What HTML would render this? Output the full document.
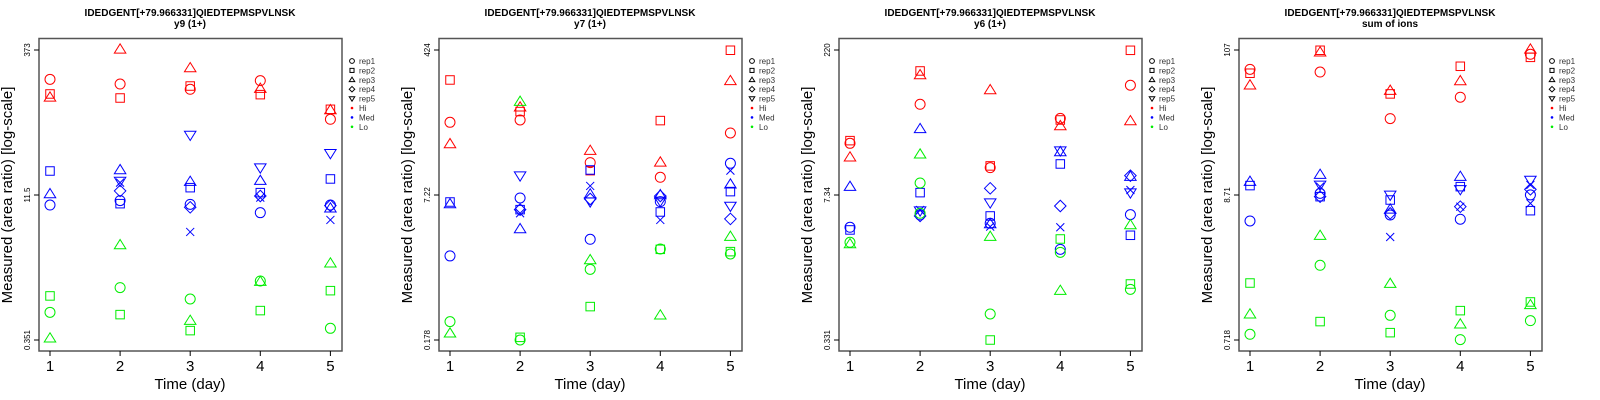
<!DOCTYPE html>
<html><head><meta charset="utf-8"><style>
html,body{margin:0;padding:0;background:#fff;}
svg{display:block;font-family:"Liberation Sans",sans-serif;}
</style></head><body>
<svg id="chart" width="1600" height="400" viewBox="0 0 1600 400" xmlns="http://www.w3.org/2000/svg"></svg>
<script>
const panelTitles = ["y9 (1+)", "y7 (1+)", "y6 (1+)", "sum of ions"];
const peptide = "IDEDGENT[+79.966331]QIEDTEPMSPVLNSK";
const yTickLabels = [["0.351","11.5","373"],["0.178","7.22","424"],["0.331","7.34","220"],["0.718","8.71","107"]];
const yMinLog = [-0.455, -0.750, -0.480, -0.144];
const yMaxLog = [2.572, 2.627, 2.342, 2.029];
const days = [1,2,3,4,5];
const legendLabels = ["rep1","rep2","rep3","rep4","rep5","Hi","Med","Lo"];

const p1Day = [1,1,1,2,2,2,3,3,3,4,4,4,5,5,5, 1,1,1,2,2,2,2,2,2,3,3,3,3,3,3,4,4,4,4,4,4,5,5,5,5,5,5, 1,1,1,2,2,2,3,3,3,4,4,4,5,5,5];
const p1Shape = "ost tos tso ots sto sto tvxdos vtsodx vtsxdo vsodtx sot tos ots ots tso".replace(/ /g,"").split("");
const p1Group = "HHHHHHHHHHHHHHH MMMMMMMMMMMMMMMMMMMMMMMMMMM LLLLLLLLLLLLLLL".replace(/ /g,"").split("");
const p1Log = [2.266,2.113,2.078,2.579,2.217,2.071,2.384,2.196,2.162,2.252,2.169,2.106,1.953,1.946,1.849,
 1.309,1.069,0.954,1.320,1.205,1.188,1.101,1.000,0.968,1.685,1.198,1.135,0.961,0.930,0.673,1.344,1.208,1.083,1.031,1.048,0.874,1.494,1.226,0.954,0.947,0.920,0.798,
 0.005,-0.166,-0.437,0.537,0.092,-0.190,-0.027,-0.253,-0.357,0.161,0.154,-0.148,0.346,0.060,-0.333];

const p2Day = [1,1,1,2,2,2,3,3,3,4,4,4,5,5,5, 1,1,1,2,2,2,2,2,2,3,3,3,3,3,3,4,4,4,4,4,4,5,5,5,5,5,5, 1,1,2,2,2,3,3,3,4,4,4,5,5,5];
const p2Shape = "sot tso tos sto sto sto vodsxt sxtvdo tdvosx oxtsvd ot tso tos ost tso".replace(/ /g,"").split("");
const p2Group = "HHHHHHHHHHHHHHH MMMMMMMMMMMMMMMMMMMMMMMMMMM LLLLLLLLLLLLLL".replace(/ /g,"").split("");
const p2Log = [2.278,1.785,1.533,1.960,1.910,1.812,1.455,1.316,1.222,1.805,1.319,1.145,2.624,2.267,1.661,
 0.857,0.834,0.229,1.164,0.904,0.768,0.768,0.726,0.543,1.230,1.044,0.947,0.861,0.892,0.423,0.939,0.927,0.869,0.861,0.741,0.648,1.308,1.222,1.063,0.978,0.811,0.660,
 -0.536,-0.672,2.026,-0.719,-0.750,0.182,0.073,-0.361,0.310,0.306,-0.462,0.454,0.279,0.252];

const p3Day = [1,1,1,2,2,2,3,3,3,4,4,4,5,5,5, 1,1,1,2,2,2,2,2,2,3,3,3,3,3,3,4,4,4,4,4,4,5,5,5,5,5,5, 1,1,2,2,2,3,3,3,4,4,4,5,5,5];
const p3Shape = "sot sto tso sot sot tos tsxvdo dvsotx vtsdxo tdxvos ot too tos sot sot".replace(/ /g,"").split("");
const p3Group = "HHHHHHHHHHHHHHH MMMMMMMMMMMMMMMMMMMMMMMMMMM LLLLLLLLLLLLLL".replace(/ /g,"").split("");
const p3Log = [1.460,1.434,1.298,2.138,2.099,1.814,1.953,1.214,1.197,1.661,1.677,1.603,2.339,1.999,1.651,
 1.012,0.617,0.591,1.574,0.954,0.785,0.779,0.727,0.737,0.996,0.857,0.727,0.656,0.649,0.623,1.363,1.350,1.233,0.824,0.617,0.402,1.110,1.119,0.980,0.954,0.740,0.539,
 0.471,0.454,1.327,1.048,0.753,0.526,-0.227,-0.480,0.503,0.373,0.000,0.065,0.013,0.639];

const p4Day = [1,1,1,2,2,2,3,3,3,4,4,4,5,5,5, 1,1,1,2,2,2,2,2,2,3,3,3,3,3,3,4,4,4,4,4,4,5,5,5,5,5,5, 1,1,1,2,2,2,3,3,3,4,4,4,5,5,5];
const p4Shape = "ost sto tso sto tso tso tvxdso vstdox tsvdxo vxdoxs sto tos tos sto sto".replace(/ /g,"").split("");
const p4Group = "HHHHHHHHHHHHHHH MMMMMMMMMMMMMMMMMMMMMMMMMMM LLLLLLLLLLLLLLL".replace(/ /g,"").split("");
const p4Log = [1.884,1.855,1.765,2.027,2.012,1.864,1.725,1.700,1.515,1.907,1.797,1.675,2.034,1.974,1.997,
 1.043,1.013,0.748,1.095,1.018,1.005,0.930,0.930,0.955,0.943,0.905,0.835,0.805,0.793,0.628,1.080,1.005,0.985,0.855,0.855,0.761,1.055,1.018,0.985,0.943,0.880,0.825,
 0.283,0.049,-0.101,0.638,0.416,-0.006,0.278,0.041,-0.089,0.076,-0.026,-0.141,0.141,0.119,0.001];

const panelDays = [p1Day,p2Day,p3Day,p4Day];
const panelShapes = [p1Shape,p2Shape,p3Shape,p4Shape];
const panelGroups = [p1Group,p2Group,p3Group,p4Group];
const panelLogs = [p1Log,p2Log,p3Log,p4Log];

const colors = {H:"#ff0000", M:"#0000ff", L:"#00ee00"};
const NS = "http://www.w3.org/2000/svg";
const svg = document.getElementById("chart");
function mk(tag, attrs, parent){const e=document.createElementNS(NS,tag);for(const k in attrs)e.setAttribute(k,attrs[k]);(parent||svg).appendChild(e);return e;}

function shapeEl(g, code, cx, cy, r, color){
  let e;
  const st = {fill:"none", stroke:color, "stroke-width":1};
  if(code==="o"){e=mk("circle",Object.assign({cx:cx,cy:cy,r:r},st),g);}
  else if(code==="s"){e=mk("rect",Object.assign({x:cx-r*0.85,y:cy-r*0.85,width:r*1.7,height:r*1.7},st),g);}
  else if(code==="t"){e=mk("path",Object.assign({d:`M${cx},${cy-r*1.1} L${cx+r*1.15},${cy+r*0.75} L${cx-r*1.15},${cy+r*0.75} Z`},st),g);}
  else if(code==="v"){e=mk("path",Object.assign({d:`M${cx},${cy+r*1.1} L${cx+r*1.15},${cy-r*0.75} L${cx-r*1.15},${cy-r*0.75} Z`},st),g);}
  else if(code==="d"){e=mk("path",Object.assign({d:`M${cx},${cy-r*1.15} L${cx+r*1.15},${cy} L${cx},${cy+r*1.15} L${cx-r*1.15},${cy} Z`},st),g);}
  else {e=mk("path",Object.assign({d:`M${cx-r*0.8},${cy-r*0.8} L${cx+r*0.8},${cy+r*0.8} M${cx+r*0.8},${cy-r*0.8} L${cx-r*0.8},${cy+r*0.8}`},st),g);}
  return e;
}

for(let p=0;p<4;p++){
  const ox = p*400;
  const g = mk("g",{transform:`translate(${ox},0)`});
  
  
  const xScale = d => 50 + (d-1)*70.1;
  const yScale = l => 340 - (l - yMinLog[p])/(yMaxLog[p]-yMinLog[p])*290;

  const t1 = mk("text",{x:190,y:16,"text-anchor":"middle","font-size":10,"font-weight":"bold"},g);
  t1.textContent = peptide;
  
  
  const t2 = mk("text",{x:190,y:27,"text-anchor":"middle","font-size":10,"font-weight":"bold"},g);
  t2.textContent = panelTitles[p];
  
  

  const box = mk("rect",{x:39,y:38.5,width:303,height:312.5,fill:"none",stroke:"#555","stroke-width":1.5},g);
  
  

  days.forEach(d=>{
    const x = xScale(d);
    mk("line",{x1:x,x2:x,y1:351,y2:356,stroke:"#000","stroke-width":1},g);
    const tl = mk("text",{x:x,y:371,"text-anchor":"middle","font-size":15},g);
    tl.textContent = d;
    
    
  });
  const yt = [yMinLog[p], (yMinLog[p]+yMaxLog[p])/2, yMaxLog[p]];
  yt.forEach((l,i)=>{
    const y = yScale(l);
    mk("line",{x1:34,x2:39,y1:y,y2:y,stroke:"#000","stroke-width":1},g);
    const tl = mk("text",{x:0,y:0,"text-anchor":"middle","font-size":8,transform:`translate(30,${y}) rotate(-90)`},g);
    tl.textContent = yTickLabels[p][i];
    
    
  });
  const xl = mk("text",{x:190,y:389,"text-anchor":"middle","font-size":15},g);
  xl.textContent = "Time (day)";
  
  
  const yl = mk("text",{x:0,y:0,"text-anchor":"middle","font-size":15,transform:"translate(12,195) rotate(-90)"},g);
  yl.textContent = "Measured (area ratio) [log-scale]";
  
  

  const days_ = panelDays[p], shapes = panelShapes[p], groups = panelGroups[p], logs = panelLogs[p];
  for(let i=0;i<logs.length;i++){
    const m = shapeEl(g, shapes[i], xScale(days_[i]), yScale(logs[i]), 5, colors[groups[i]]);
    
    
  }

  const legendShapes = ["o","s","t","d","v"];
  legendLabels.forEach((lab,i)=>{
    const y = 61 + i*9.4;
    let s;
    if(i<5){ s = shapeEl(g, legendShapes[i], 352, y, 2.4, "#000"); }
    else { s = mk("circle",{cx:352,cy:y,r:1.3,fill:colors["HML"[i-5]]},g); }
    
    
    const tx = mk("text",{x:359,y:y+3,"font-size":8,fill:"#333"},g);
    tx.textContent = lab;
    
    
  });
}
</script>
</body></html>
